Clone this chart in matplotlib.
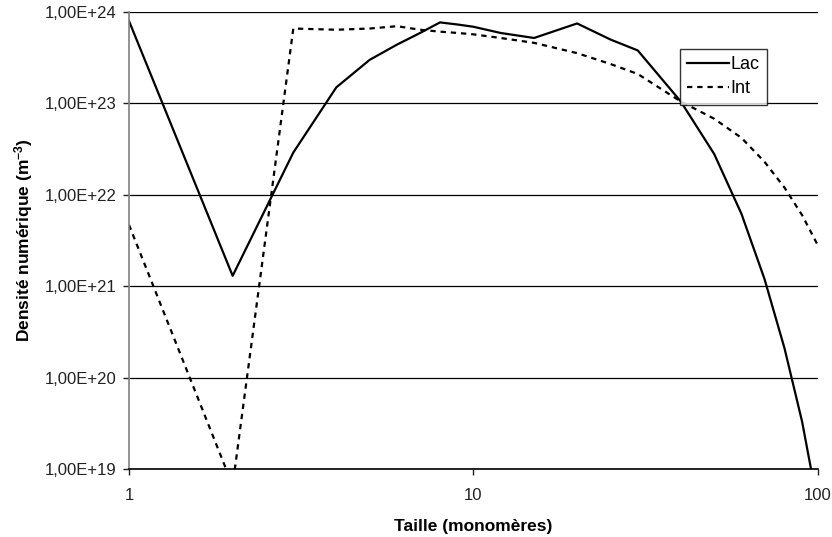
import numpy as np
import matplotlib
matplotlib.use("Agg")
import matplotlib.pyplot as plt
from matplotlib.ticker import FixedLocator, FuncFormatter, NullLocator

plt.rcParams["font.family"] = ["Liberation Sans", "DejaVu Sans"]
plt.rcParams["mathtext.default"] = "regular"

# Size classes (monomers)
taille = [1, 2, 3, 4, 5, 6, 7, 8, 9, 10, 12, 15, 20, 25, 30, 40, 50, 60, 70, 80, 90, 100]

# Number density (m^-3)
lac = [8.0e23, 1.3e21, 2.9e22, 1.5e23, 3.0e23, 4.4e23, 5.9e23, 7.7e23, 7.3e23, 6.9e23,
       5.9e23, 5.2e23, 7.5e23, 5.0e23, 3.8e23, 1.05e23, 2.8e22, 6.2e21, 1.2e21, 2.1e20,
       3.3e19, 4.0e18]
inter = [4.7e21, 6.6e18, 6.6e23, 6.4e23, 6.6e23, 7.0e23, 6.4e23, 6.1e23, 5.9e23, 5.7e23,
         5.2e23, 4.6e23, 3.55e23, 2.7e23, 2.1e23, 1.05e23, 6.8e22, 4.2e22, 2.3e22, 1.2e22,
         6.0e21, 2.8e21]

y_ticks = [1e19, 1e20, 1e21, 1e22, 1e23, 1e24]
x_ticks = [1, 10, 100]


def excel_sci(v, pos):
    exp = int(np.floor(np.log10(v) + 1e-9))
    mant = v / 10 ** exp
    return f"{mant:.2f}".replace(".", ",") + f"E+{exp:02d}"


fig = plt.figure(figsize=(8.32, 5.37), dpi=100)
ax = fig.add_axes([0.155, 0.1266, 0.828, 0.851])

ax.plot(taille, lac, color="black", lw=1.6, label="Lac")
ax.plot(taille, inter, color="black", lw=1.6, linestyle=(0, (2.4, 2.2)), label="Int")

ax.set_xscale("log")
ax.set_yscale("log")
ax.set_xlim(1, 100)
ax.set_ylim(1e19, 1e24)

ax.xaxis.set_major_locator(FixedLocator(x_ticks))
ax.xaxis.set_minor_locator(NullLocator())
ax.xaxis.set_major_formatter(FuncFormatter(lambda v, p: f"{v:g}"))
ax.yaxis.set_major_locator(FixedLocator(y_ticks))
ax.yaxis.set_minor_locator(NullLocator())
ax.yaxis.set_major_formatter(FuncFormatter(excel_sci))

ax.grid(axis="y", color="black", lw=0.9)
for s in ["top", "right"]:
    ax.spines[s].set_visible(False)
ax.spines["left"].set_color("#808080")
ax.spines["left"].set_linewidth(1.2)
ax.spines["bottom"].set_color("black")
ax.spines["bottom"].set_linewidth(1.2)
ax.tick_params(axis="both", direction="out", length=4, width=1, labelsize=12,
               colors="#222222")
ax.tick_params(axis="x", pad=10)
ax.tick_params(axis="y", pad=5)

ax.set_xlabel("Taille (monomères)", fontsize=12.5, fontweight="bold", labelpad=11)
ax.set_ylabel("Densité numérique (m$^{-3}$)", fontsize=12.5, fontweight="bold",
              labelpad=7)

leg = ax.legend(loc="upper left", bbox_to_anchor=(0.80, 0.919), frameon=True,
                fancybox=False, edgecolor="black", fontsize=13, handlelength=2.3,
                handletextpad=0.1, borderpad=0.4, labelspacing=0.4,
                borderaxespad=0)
leg.get_frame().set_linewidth(1.0)

fig.savefig("out.png", dpi=100)
